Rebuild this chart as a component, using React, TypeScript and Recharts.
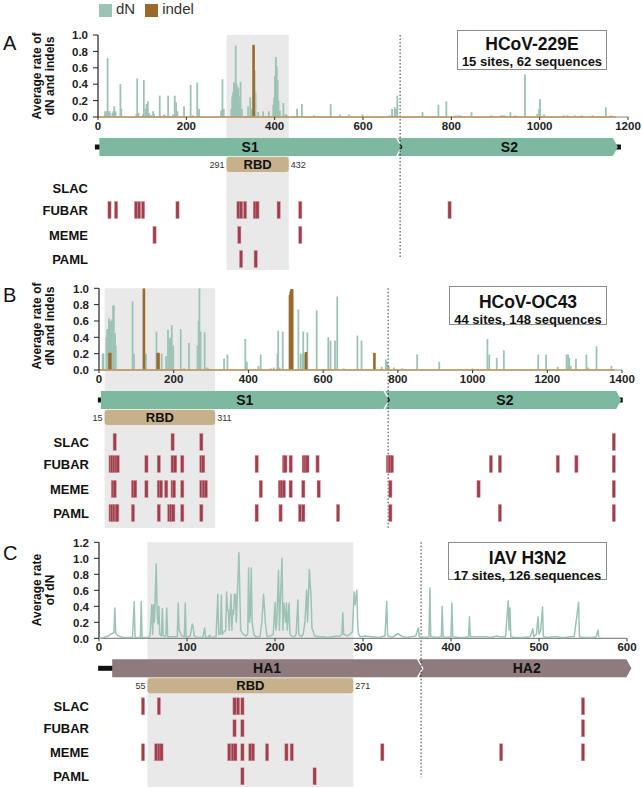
import React from 'react';
import {
  ComposedChart, Bar, Line, Scatter, XAxis, YAxis, ReferenceArea, ReferenceLine, ReferenceDot, Legend,
} from 'recharts';

type Pair = [number, number];

const FONT = '"Liberation Sans", Arial, Helvetica, sans-serif';
const METHODS = ['SLAC', 'FUBAR', 'MEME', 'PAML'];
const DN_COLOR = '#9cc3b4';
const INDEL_COLOR = '#9a6a2c';
const SITE_COLOR = '#a13d4c';
const SHADE = '#e9e9e9';

// ---------------- Panel A: HCoV-229E ----------------
const dnA: Pair[] = [
  [16, 0.07], [20, 0.07], [22, 0.72], [24, 0.07], [27, 0.07], [33, 0.05], [35, 0.07], [37, 0.13], [40, 0.07],
  [51, 0.4], [53, 0.1], [87, 0.03], [89, 0.47], [92, 0.05], [102, 0.03], [104, 0.45], [108, 0.1], [110, 0.16],
  [113, 0.19], [116, 0.05], [120, 0.02], [125, 0.07], [127, 0.04], [140, 0.26], [150, 0.03], [152, 0.02],
  [159, 0.26], [170, 0.03], [174, 0.26], [177, 0.18], [180, 0.07], [195, 0.13], [210, 0.39], [215, 0.02],
  [225, 0.42], [229, 0.1], [279, 0.08], [282, 0.46], [285, 0.1], [302, 0.1], [304, 0.25], [306, 0.3],
  [308, 0.42], [310, 0.42], [312, 0.87], [314, 0.4], [316, 0.37], [318, 0.35], [320, 0.25], [323, 0.43],
  [326, 0.1], [340, 0.13], [345, 0.24], [348, 0.1], [355, 0.57], [357, 0.3], [363, 0.06], [374, 0.07],
  [387, 0.07], [397, 0.15], [399, 0.24], [401, 0.5], [403, 0.73], [405, 0.62], [407, 0.45], [409, 0.2],
  [412, 0.08], [420, 0.17], [424, 0.03], [427, 0.03], [451, 0.1], [462, 0.16], [489, 0.02], [527, 0.16],
  [548, 0.03], [569, 0.03], [599, 0.03], [660, 0.02], [666, 0.1], [672, 0.12], [675, 0.1], [678, 0.26],
  [735, 0.06], [771, 0.15], [789, 0.19], [810, 0.02], [815, 0.02], [820, 0.02], [846, 0.06], [891, 0.02],
  [912, 0.02], [916, 0.02], [920, 0.02], [934, 0.06], [945, 0.02], [967, 0.52], [995, 0.04], [999, 0.1],
  [1001, 0.22], [1010, 0.03], [1055, 0.02], [1063, 0.02], [1080, 0.02], [1095, 0.02], [1120, 0.02],
  [1150, 0.12], [1162, 0.02],
];
const indelA: Pair[] = [[352, 0.88]];
const slacA: number[] = [];
const fubarA: number[] = [26, 41, 86, 93, 102, 180, 318, 324, 333, 355, 361, 409, 458, 796];
const memeA: number[] = [128, 320, 458];
const pamlA: number[] = [324, 357];
const domainNamesA = ['S1', 'S2'];
const domainSpansA: Pair[] = [[3, 686], [686, 1177]];
const backboneA: Pair = [-7, 1184];
const rbdSpanA: Pair = [291, 432];
const rbdLabelsA = ['291', '432'];
const xTicksA = [0, 200, 400, 600, 800, 1000, 1200];
const yTicksAB = [0, 0.2, 0.4, 0.6, 0.8, 1.0];

// ---------------- Panel B: HCoV-OC43 ----------------
const dnB: Pair[] = [
  [10, 0.2], [12, 0.2], [20, 0.4], [22, 0.5], [25, 0.5], [27, 0.63], [29, 0.6], [32, 0.6], [35, 0.62],
  [38, 0.79], [40, 0.79], [43, 0.45], [45, 0.3], [55, 0.01], [63, 0.01], [70, 0.01], [90, 0.84], [94, 0.2],
  [126, 0.2], [154, 0.47], [168, 0.2], [180, 0.17], [185, 0.49], [189, 0.38], [192, 0.4], [195, 0.55],
  [199, 0.3], [219, 0.5], [228, 0.02], [241, 0.33], [264, 0.3], [267, 0.6], [269, 1.0], [272, 0.47],
  [283, 0.46], [289, 0.03], [293, 0.02], [324, 0.01], [335, 0.14], [344, 0.19], [392, 0.38], [396, 0.1],
  [427, 0.05], [433, 0.19], [460, 0.02], [468, 0.03], [478, 0.2], [480, 0.48], [484, 0.03], [492, 0.47],
  [534, 0.74], [540, 0.2], [545, 0.2], [547, 0.47], [551, 0.2], [558, 0.46], [583, 0.73], [605, 0.01],
  [614, 0.4], [620, 0.36], [632, 0.36], [638, 0.9], [655, 0.02], [692, 0.42], [703, 0.36], [757, 0.04],
  [768, 0.13], [771, 0.1], [776, 0.05], [790, 0.03], [812, 0.02], [852, 0.19], [911, 0.1], [960, 0.01],
  [995, 0.01], [1000, 0.02], [1040, 0.38], [1045, 0.19], [1065, 0.15], [1084, 0.24], [1130, 0.01],
  [1176, 0.19], [1197, 0.19], [1228, 0.04], [1252, 0.19], [1256, 0.19], [1259, 0.15], [1263, 0.05],
  [1277, 0.14], [1305, 0.19], [1310, 0.03], [1332, 0.29], [1372, 0.05],
];
const indelB: Pair[] = [
  [28, 0.21], [30, 0.21], [120, 1.0], [157, 0.21], [159, 0.21], [511, 0.92], [513, 0.96], [515, 0.99],
  [517, 0.99], [554, 0.22], [737, 0.21],
];
const slacB: number[] = [42, 197, 274, 1378];
const fubarB: number[] = [31, 35, 40, 45, 50, 127, 160, 197, 204, 223, 274, 279, 422, 495, 499, 513, 548, 553,
  558, 585, 773, 776, 780, 784, 1049, 1073, 1228, 1278, 1378];
const memeB: number[] = [37, 42, 91, 97, 127, 160, 166, 180, 197, 201, 223, 274, 278, 282, 286, 433, 484, 489,
  495, 513, 547, 588, 780, 1016, 1378];
const pamlB: number[] = [31, 35, 40, 45, 49, 91, 160, 188, 193, 199, 223, 274, 422, 486, 538, 547, 640, 780,
  1073, 1378];
const domainNamesB = ['S1', 'S2'];
const domainSpansB: Pair[] = [[5, 775], [775, 1398]];
const backboneB: Pair = [-3, 1402];
const rbdSpanB: Pair = [15, 311];
const rbdLabelsB = ['15', '311'];
const xTicksB = [0, 200, 400, 600, 800, 1000, 1200, 1400];

// ---------------- Panel C: IAV H3N2 ----------------
const dnC: Pair[] = [
  [0, 0], [5, 0.01], [8, 0.02], [11, 0.03], [13, 0.05], [15, 0.06], [17, 0.07], [18, 0.38], [19, 0.07],
  [20, 0.05], [22, 0.03], [25, 0.02], [28, 0.01], [38, 0.01], [40, 0.46], [41, 0.01], [47, 0.01], [48, 0.46],
  [49, 0.01], [56, 0.01], [58, 0.03], [60, 0.42], [61, 0.05], [62, 0.42], [63, 0.2], [65, 0.93], [66, 0.35],
  [67, 0.18], [68, 0.4], [69, 0.05], [71, 0.03], [72, 0.37], [73, 0.03], [76, 0.03], [77, 0.38], [78, 0.02],
  [85, 0.02], [89, 0.02], [90, 0.44], [91, 0.1], [92, 0.08], [94, 0.03], [97, 0.02], [98, 0.44], [99, 0.02],
  [103, 0.02], [104, 0.05], [106, 0.18], [107, 0.15], [108, 0.03], [112, 0.01], [118, 0.01], [120, 0.13],
  [121, 0.02], [124, 0.01], [126, 0.04], [127, 0.01], [133, 0.02], [135, 0.55], [136, 0.05], [138, 0.05],
  [139, 0.54], [140, 0.05], [142, 0.08], [144, 0.1], [145, 0.58], [146, 0.35], [147, 0.35], [148, 0.1],
  [149, 0.35], [150, 0.55], [151, 0.1], [152, 0.35], [153, 0.3], [154, 0.55], [155, 0.55], [156, 0.2],
  [159, 1.07], [161, 0.1], [164, 0.05], [167, 0.03], [169, 0.05], [170, 0.88], [171, 0.2], [172, 0.3],
  [173, 0.88], [174, 0.2], [176, 0.05], [178, 0.02], [183, 0.02], [185, 0.2], [187, 0.55], [189, 0.2],
  [191, 0.02], [195, 0.03], [198, 0.05], [200, 0.45], [201, 0.1], [202, 0.2], [204, 0.85], [205, 0.1],
  [206, 0.44], [208, 1.0], [209, 0.1], [210, 0.44], [212, 0.2], [213, 0.44], [214, 0.1], [216, 0.44],
  [217, 0.05], [220, 0.02], [222, 0.02], [224, 0.05], [226, 0.48], [227, 0.05], [230, 0.02], [232, 0.05],
  [234, 0.2], [236, 0.6], [237, 0.2], [239, 0.86], [241, 0.5], [242, 0.12], [243, 0.1], [245, 0.03],
  [250, 0.02], [255, 0.02], [260, 0.01], [266, 0.02], [270, 0.03], [273, 0.02], [276, 0.05], [277, 0.32],
  [278, 0.05], [282, 0.03], [285, 0.05], [288, 0.08], [290, 0.58], [291, 0.42], [293, 0.6], [294, 0.15],
  [295, 0.05], [297, 0.02], [303, 0.03], [310, 0.02], [318, 0.01], [325, 0.03], [327, 0.46], [328, 0.03],
  [333, 0.01], [340, 0.06], [342, 0.04], [345, 0.02], [350, 0.01], [360, 0.03], [362, 0.1], [363, 0.13],
  [364, 0.02], [370, 0.01], [375, 0.02], [376, 0.63], [377, 0.02], [385, 0.01], [389, 0.02], [390, 0.4],
  [391, 0.02], [395, 0.01], [400, 0.02], [401, 0.44], [402, 0.02], [410, 0.01], [415, 0.01], [420, 0.02],
  [421, 0.27], [422, 0.02], [428, 0.02], [435, 0.02], [440, 0.02], [445, 0.01], [452, 0.03], [455, 0.02],
  [462, 0.02], [465, 0.47], [466, 0.1], [467, 0.38], [468, 0.02], [472, 0.01], [480, 0.01], [490, 0.02],
  [493, 0.12], [494, 0.02], [497, 0.05], [499, 0.27], [500, 0.05], [502, 0.1], [504, 0.39], [505, 0.02],
  [510, 0.01], [515, 0.02], [520, 0.02], [525, 0.01], [530, 0.01], [535, 0.02], [540, 0.02], [545, 0.45],
  [546, 0.02], [550, 0.01], [555, 0.01], [560, 0.01], [565, 0.02], [567, 0.1], [568, 0.01],
];
const slacC: number[] = [50, 68, 154, 158, 163, 550];
const fubarC: number[] = [154, 163, 550];
const memeC: number[] = [50, 65, 68, 71, 148, 152, 155, 163, 172, 175, 191, 213, 219, 322, 457, 550];
const pamlC: number[] = [163, 245];
const domainNamesC = ['HA1', 'HA2'];
const domainSpansC: Pair[] = [[15, 367], [367, 605]];
const backboneC: Pair = [-1, 16];
const rbdSpanC: Pair = [55, 289];
const rbdLabelsC = ['55', '271'];
const xTicksC = [0, 100, 200, 300, 400, 500, 600];
const yTicksC = [0, 0.2, 0.4, 0.6, 0.8, 1.0, 1.2];

// ---------------- helpers ----------------
function mergeSeries(dn: Pair[], indel: Pair[]) {
  const m = new Map<number, any>();
  dn.forEach(([p, v]) => m.set(p, { ...(m.get(p) || { pos: p }), dN: v }));
  indel.forEach(([p, v]) => m.set(p, { ...(m.get(p) || { pos: p }), indel: v }));
  return Array.from(m.values()).sort((a, b) => a.pos - b.pos);
}

const spike = (color: string, w: number) => (p: any) => {
  const { x, y, width, height } = p;
  if (!(height > 0) || !Number.isFinite(x) || !Number.isFinite(y)) return <g />;
  return <rect x={x + (width || 0) / 2 - w / 2} y={y} width={w} height={height} fill={color} />;
};

const siteMark = (p: any) => {
  const { cx, cy } = p;
  if (!Number.isFinite(cx) || !Number.isFinite(cy)) return <g />;
  return <rect x={cx - 1.6} y={cy - 8.5} width={3.2} height={17} fill={SITE_COLOR} stroke="#c9939b" strokeWidth={0.5} />;
};

const arrowShape = (color: string, notch: boolean) => (p: any) => {
  const { x, y, width: w, height: h } = p;
  const t = 5;
  const xs = notch ? x - t + 1.5 : x;
  const pts: number[][] = [[xs, y], [x + w - t, y], [x + w, y + h / 2], [x + w - t, y + h], [xs, y + h]];
  if (notch) pts.push([x + 1.5, y + h / 2]);
  return <polygon points={pts.map((q) => q.join(',')).join(' ')} fill={color} />;
};

const rbdShape = (p: any) => (
  <rect x={p.x} y={p.y} width={p.width} height={p.height} rx={3} ry={3} fill="#c7b18b" />
);

interface Layout {
  top: number; height: number; plotTop: number; baseline: number; plotBottom: number;
  left: number; right: number; ymax: number; xmax: number; rows: number[]; dottedBottom: number;
  seqEnd: number; boundary: number;
}

function Panel(props: {
  layout: Layout; dn: Pair[]; indel?: Pair[]; xTicks: number[]; yTicks: number[];
  domainNames: string[]; domainSpans: Pair[]; domainColor: string; backbone: Pair;
  rbdSpan: Pair; rbdLabels: string[]; sites: number[][]; legend?: boolean;
}) {
  const { layout: L, dn, indel, xTicks, yTicks, domainNames, domainSpans, domainColor, backbone,
    rbdSpan, rbdLabels, sites, legend } = props;
  const unit = (L.baseline - L.plotTop) / L.ymax;
  const v = (off: number) => -off / unit;
  const ymin = v(L.plotBottom - L.baseline);
  const rowVals = L.rows.map(v);
  const names = new Map<number, string>();
  rowVals.forEach((r, i) => names.set(r, METHODS[i]));
  const ticks = [...yTicks, ...rowVals];
  const isBars = !!indel;
  const data = isBars ? mergeSeries(dn, indel as Pair[]) : dn.map(([pos, val]) => ({ pos, dN: val }));
  const siteData = sites.map((arr, i) => arr.map((pos) => ({ pos, y: rowVals[i] })));

  const renderTick = (p: any) => {
    const { x, y, payload } = p;
    const val = payload.value;
    const name = names.get(val);
    if (name) {
      return <text x={x} y={y} dy={4.6} textAnchor="end" fontSize={13} fontWeight="bold" fill="#111">{name}</text>;
    }
    return (
      <g>
        <line x1={x + 5} x2={x + 10} y1={y} y2={y} stroke="#222" strokeWidth={1} />
        <text x={x} y={y} dy={4.2} textAnchor="end" fontSize={11.5} fontWeight="bold" fill="#222">{Number(val).toFixed(1)}</text>
      </g>
    );
  };

  const rbdMid = v(47.5);

  return (
    <div style={{ position: 'absolute', left: 0, top: L.top }}>
      <ComposedChart
        width={642}
        height={L.height}
        data={data}
        margin={{ top: L.plotTop - L.top, right: L.right, bottom: L.top + L.height - L.plotBottom, left: 0 }}
        barGap={0}
        barCategoryGap={0}
      >
        <XAxis type="number" dataKey="pos" domain={[0, L.xmax]} hide allowDataOverflow />
        <YAxis type="number" domain={[ymin, L.ymax]} ticks={ticks} interval={0} allowDataOverflow
          width={L.left} axisLine={false} tickLine={false} tickSize={0} tickMargin={10} tick={renderTick} />
        <ReferenceArea x1={rbdSpan[0]} x2={rbdSpan[1]} y1={ymin} y2={L.ymax} fill={SHADE} fillOpacity={1}
          stroke="none" ifOverflow="visible" />
        <ReferenceArea x1={backbone[0]} x2={backbone[1]} y1={v(32.5)} y2={v(27.5)} fill="#111" fillOpacity={1}
          stroke="none" ifOverflow="visible" />
        {domainSpans.map((s, i) => (
          <ReferenceArea key={'d' + i} x1={s[0]} x2={s[1]} y1={v(39)} y2={v(21)} ifOverflow="visible"
            shape={arrowShape(domainColor, i > 0)}
            label={{ value: domainNames[i], position: 'center', fontSize: 14, fontWeight: 'bold', fill: '#111' }} />
        ))}
        <ReferenceArea x1={rbdSpan[0]} x2={rbdSpan[1]} y1={v(55)} y2={v(40)} ifOverflow="visible" shape={rbdShape}
          label={{ value: 'RBD', position: 'center', fontSize: 13, fontWeight: 'bold', fill: '#111' }} />
        <ReferenceDot x={rbdSpan[0]} y={rbdMid} r={0} fill="none" stroke="none" ifOverflow="visible"
          label={{ value: rbdLabels[0], position: 'left', offset: 2, fontSize: 9, fill: '#333' }} />
        <ReferenceDot x={rbdSpan[1]} y={rbdMid} r={0} fill="none" stroke="none" ifOverflow="visible"
          label={{ value: rbdLabels[1], position: 'right', offset: 2, fontSize: 9, fill: '#333' }} />
        <ReferenceLine segment={[{ x: L.boundary, y: L.ymax }, { x: L.boundary, y: v(L.dottedBottom) }]}
          stroke="#333" strokeWidth={1} strokeDasharray="1.5 2" ifOverflow="visible" />
        <ReferenceLine y={0} stroke="#8a8a8a" strokeWidth={1.2} ifOverflow="visible" />
        {isBars && (
          <ReferenceLine segment={[{ x: 0, y: 0 }, { x: L.seqEnd, y: 0 }]} stroke="#c29c62" strokeWidth={1.3}
            ifOverflow="visible" />
        )}
        <ReferenceLine segment={[{ x: 0, y: 0 }, { x: 0, y: L.ymax }]} stroke="#222" strokeWidth={1.2}
          ifOverflow="visible" />
        {xTicks.map((t) => (
          <ReferenceLine key={'xt' + t} segment={[{ x: t, y: 0 }, { x: t, y: v(3) }]} stroke="#333" strokeWidth={1}
            ifOverflow="visible"
            label={{ value: String(t), position: 'bottom', offset: 2, fontSize: 11.5, fontWeight: 'bold', fill: '#222' }} />
        ))}
        {isBars && (
          <Bar dataKey="dN" name="dN" fill={DN_COLOR} shape={spike(DN_COLOR, 1.8)} isAnimationActive={false}
            legendType="square" />
        )}
        {isBars && (
          <Bar dataKey="indel" name="indel" fill={INDEL_COLOR} shape={spike(INDEL_COLOR, 2.6)} isAnimationActive={false}
            legendType="square" />
        )}
        {!isBars && (
          <Line type="linear" dataKey="dN" stroke={DN_COLOR} strokeWidth={1.5} strokeLinejoin="round" dot={false}
            isAnimationActive={false} legendType="none" />
        )}
        {siteData.map((d, i) => (
          <Scatter key={'s' + i} data={d} dataKey="y" shape={siteMark} isAnimationActive={false} legendType="none" />
        ))}
        {legend && (
          <Legend layout="horizontal" verticalAlign="middle" align="center" iconType="square" iconSize={13}
            wrapperStyle={{ top: 1, left: 99, width: 'auto', fontSize: 15, lineHeight: '16px' }}
            formatter={(val: any) => <span style={{ color: '#333' }}>{val}</span>} />
        )}
      </ComposedChart>
    </div>
  );
}

function TitleBox(p: { left: number; top: number; width: number; height: number; pad: number; title: string; sub: string }) {
  return (
    <div style={{
      position: 'absolute', left: p.left, top: p.top, width: p.width, height: p.height, boxSizing: 'border-box',
      border: '1px solid #8c8c8c', background: '#fff', textAlign: 'center', fontWeight: 'bold', color: '#111',
    }}>
      <div style={{ fontSize: 17.5, lineHeight: '20px', marginTop: p.pad }}>{p.title}</div>
      <div style={{ fontSize: 13, lineHeight: '15px' }}>{p.sub}</div>
    </div>
  );
}

function YLabel(p: { cy: number; lines: string[] }) {
  return (
    <div style={{
      position: 'absolute', left: 43.5 - 65, top: p.cy - 13, width: 130, height: 26,
      transform: 'rotate(-90deg)', textAlign: 'center', fontSize: 12, fontWeight: 'bold', lineHeight: '13px', color: '#111',
    }}>
      {p.lines.map((l) => <div key={l}>{l}</div>)}
    </div>
  );
}

function Letter(p: { top: number; text: string }) {
  return (
    <div style={{ position: 'absolute', left: 3, top: p.top, fontSize: 20, lineHeight: '20px', color: '#111' }}>{p.text}</div>
  );
}

const layoutA: Layout = {
  top: 0, height: 280, plotTop: 35, baseline: 117, plotBottom: 270, left: 98, right: 14, ymax: 1.0, xmax: 1200,
  rows: [71, 93, 118, 142], dottedBottom: 142, seqEnd: 1173, boundary: 684,
};
const layoutB: Layout = {
  top: 280, height: 255, plotTop: 288.3, baseline: 370, plotBottom: 528, left: 99, right: 20, ymax: 1.0, xmax: 1400,
  rows: [72, 94, 119, 143], dottedBottom: 158, seqEnd: 1381, boundary: 774,
};
const layoutC: Layout = {
  top: 535, height: 253, plotTop: 542.3, baseline: 638.3, plotBottom: 787, left: 99, right: 15, ymax: 1.2, xmax: 600,
  rows: [68, 90, 114, 138], dottedBottom: 139, seqEnd: 567, boundary: 366,
};

export default function App() {
  return (
    <div style={{ position: 'absolute', left: 0, top: 0, width: 642, height: 788, background: '#fff', fontFamily: FONT, overflow: 'hidden' }}>
      <Panel layout={layoutA} dn={dnA} indel={indelA} xTicks={xTicksA} yTicks={yTicksAB}
        domainNames={domainNamesA} domainSpans={domainSpansA} domainColor="#7db9a0" backbone={backboneA}
        rbdSpan={rbdSpanA} rbdLabels={rbdLabelsA} sites={[slacA, fubarA, memeA, pamlA]} legend />
      <Panel layout={layoutB} dn={dnB} indel={indelB} xTicks={xTicksB} yTicks={yTicksAB}
        domainNames={domainNamesB} domainSpans={domainSpansB} domainColor="#7db9a0" backbone={backboneB}
        rbdSpan={rbdSpanB} rbdLabels={rbdLabelsB} sites={[slacB, fubarB, memeB, pamlB]} />
      <Panel layout={layoutC} dn={dnC} xTicks={xTicksC} yTicks={yTicksC}
        domainNames={domainNamesC} domainSpans={domainSpansC} domainColor="#8f7b7e" backbone={backboneC}
        rbdSpan={rbdSpanC} rbdLabels={rbdLabelsC} sites={[slacC, fubarC, memeC, pamlC]} />
      <Letter top={33} text="A" />
      <Letter top={285} text="B" />
      <Letter top={543} text="C" />
      <YLabel cy={76} lines={['Average rate of', 'dN and indels']} />
      <YLabel cy={326} lines={['Average rate of', 'dN and indels']} />
      <YLabel cy={590} lines={['Average rate', 'of dN']} />
      <TitleBox left={457} top={30} width={150} height={40} pad={3} title="HCoV-229E" sub="15 sites, 62 sequences" />
      <TitleBox left={449} top={286} width={158} height={39} pad={5} title="HCoV-OC43" sub="44 sites, 148 sequences" />
      <TitleBox left={448} top={542} width={159} height={38} pad={5} title="IAV H3N2" sub="17 sites, 126 sequences" />
    </div>
  );
}
